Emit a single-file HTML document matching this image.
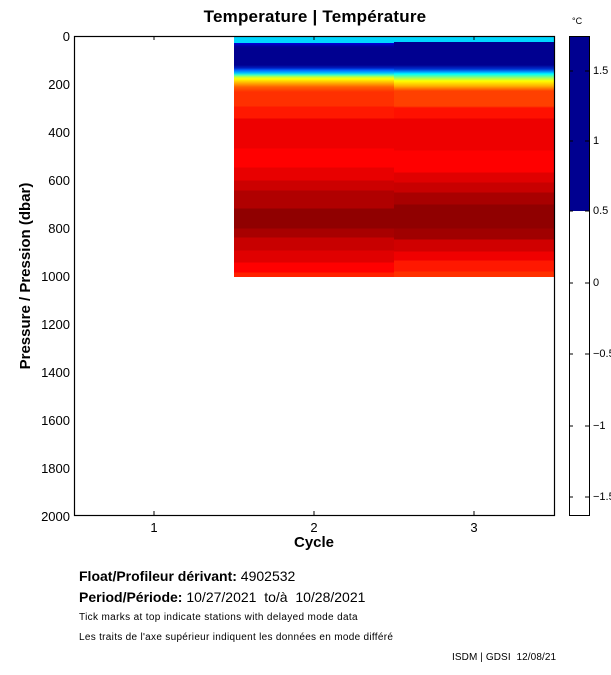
<!DOCTYPE html>
<html><head><meta charset="utf-8"><style>
body{margin:0;background:#fff;width:611px;height:675px;position:relative;overflow:hidden;font-family:"Liberation Sans",Arial,sans-serif;color:#000}
.a{position:absolute}
.c2{left:234px;top:36px;width:160px;height:241px;background:linear-gradient(to bottom,#00d8ff 0px,#00d8ff 7px,#0000e0 7px,#0000a0 10px,#000090 12px,#000090 29px,#0020c0 32px,#0060ff 34px,#00c0ff 37px,#40ffc0 39px,#c0ff40 41px,#ffff00 43px,#ffb000 47px,#ff6000 51px,#ff3000 56px,#ff3000 70px,#ff1800 71px,#ff1800 82px,#ee0000 83px,#ee0000 112px,#ff0000 113px,#ff0000 131px,#e80000 132px,#e80000 144px,#cc0000 145px,#cc0000 154px,#b00000 155px,#b00000 172px,#900000 173px,#900000 192px,#a80000 193px,#a80000 201px,#c80000 202px,#c80000 214px,#e00000 215px,#e00000 226px,#ff0000 227px,#ff0000 236px,#ff2000 237px,#ff2000 241px)}
.c3{left:394px;top:36px;width:160px;height:241px;background:linear-gradient(to bottom,#00d8ff 0px,#00d8ff 6px,#000090 6px,#000090 29px,#0030d0 33px,#00a0ff 36px,#00ffff 38px,#a0ff60 42px,#ffff00 45px,#ffb000 50px,#ff4000 55px,#ff4000 70px,#ff1000 72px,#ff1000 82px,#ee0000 83px,#ee0000 114px,#ff0000 115px,#ff0000 136px,#e00000 137px,#e00000 146px,#c80000 147px,#c80000 156px,#a80000 157px,#a80000 168px,#900000 169px,#900000 192px,#a00000 193px,#a00000 203px,#d00000 204px,#d00000 215px,#f00000 216px,#f00000 224px,#ff1800 225px,#ff1800 235px,#ff3000 236px,#ff3000 241px)}
.yl{position:absolute;right:541px;font-size:13px;line-height:13px}
.xl{position:absolute;font-size:13px;width:20px;margin-left:-10px;text-align:center;top:520px}
.cl{position:absolute;left:593px;font-size:11px;line-height:11px}
</style></head><body>
<div class="a" style="left:0;width:630px;text-align:center;top:7px;font-size:17px;font-weight:bold;letter-spacing:0.2px">Temperature | Température</div>
<div class="a c2"></div><div class="a c3"></div>
<svg class="a" style="left:0;top:0" width="611" height="675">
<rect x="74.5" y="36.5" width="480" height="479" fill="none" stroke="#000" stroke-width="1.2"/>
<g stroke="#000" stroke-width="1">
<line x1="154" y1="36" x2="154" y2="40"/><line x1="314" y1="36" x2="314" y2="40"/><line x1="474" y1="36" x2="474" y2="40"/>
<line x1="154" y1="515" x2="154" y2="511"/><line x1="314" y1="515" x2="314" y2="511"/><line x1="474" y1="515" x2="474" y2="511"/>
</g>
<rect x="569" y="36" width="21" height="175" fill="#000090"/>
<rect x="569.5" y="36.5" width="20" height="479" fill="none" stroke="#000"/>
<g stroke="#000">
<line x1="585" y1="71" x2="589" y2="71"/><line x1="585" y1="141" x2="589" y2="141"/><line x1="585" y1="211" x2="589" y2="211"/>
<line x1="585" y1="283" x2="589" y2="283"/><line x1="585" y1="354" x2="589" y2="354"/><line x1="585" y1="426" x2="589" y2="426"/><line x1="585" y1="497" x2="589" y2="497"/>
<line x1="569" y1="71" x2="573" y2="71"/><line x1="569" y1="141" x2="573" y2="141"/><line x1="569" y1="211" x2="573" y2="211"/>
<line x1="569" y1="283" x2="573" y2="283"/><line x1="569" y1="354" x2="573" y2="354"/><line x1="569" y1="426" x2="573" y2="426"/><line x1="569" y1="497" x2="573" y2="497"/>
</g>
<text x="30" y="276" transform="rotate(-90 30 276)" text-anchor="middle" font-family="Liberation Sans,Arial,sans-serif" font-size="15" font-weight="bold">Pressure / Pression (dbar)</text>
</svg>
<div class="yl" style="top:30px">0</div>
<div class="yl" style="top:78px">200</div>
<div class="yl" style="top:126px">400</div>
<div class="yl" style="top:174px">600</div>
<div class="yl" style="top:222px">800</div>
<div class="yl" style="top:270px">1000</div>
<div class="yl" style="top:318px">1200</div>
<div class="yl" style="top:366px">1400</div>
<div class="yl" style="top:414px">1600</div>
<div class="yl" style="top:462px">1800</div>
<div class="yl" style="top:510px">2000</div>
<div class="xl" style="left:154px">1</div>
<div class="xl" style="left:314px">2</div>
<div class="xl" style="left:474px">3</div>
<div class="a" style="left:274px;width:80px;text-align:center;top:534px;font-size:15px;font-weight:bold">Cycle</div>
<div class="a" style="left:572px;top:16px;font-size:9px">°C</div>
<div class="cl" style="top:66px">1.5</div>
<div class="cl" style="top:136px">1</div>
<div class="cl" style="top:206px">0.5</div>
<div class="cl" style="top:278px">0</div>
<div class="cl" style="top:349px">−0.5</div>
<div class="cl" style="top:421px">−1</div>
<div class="cl" style="top:492px">−1.5</div>
<div class="a" style="left:79px;top:568px;font-size:14px"><b>Float/Profileur dérivant:</b> 4902532</div>
<div class="a" style="left:79px;top:589px;font-size:14px"><b>Period/Période:</b> 10/27/2021&nbsp; to/à&nbsp; 10/28/2021</div>
<div class="a" style="left:79px;top:612px;font-size:10px;letter-spacing:0.35px">Tick marks at top indicate stations with delayed mode data</div>
<div class="a" style="left:79px;top:632px;font-size:10px;letter-spacing:0.3px">Les traits de l'axe supérieur indiquent les données en mode différé</div>
<div class="a" style="left:452px;top:652px;font-size:10px;letter-spacing:0.1px">ISDM | GDSI&nbsp; 12/08/21</div>
</body></html>
